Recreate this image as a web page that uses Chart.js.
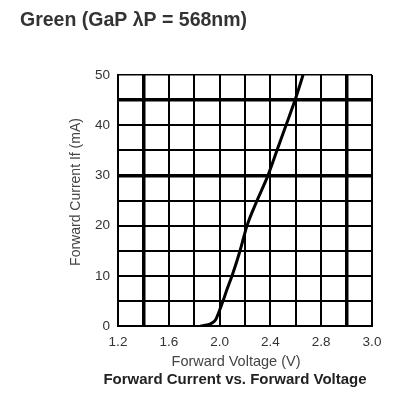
<!DOCTYPE html>
<html>
<head>
<meta charset="utf-8">
<script src="https://cdn.jsdelivr.net/npm/chart.js@4"></script>
<style>
  body { margin: 0; background: #fff; }
</style>
</head>
<body>
<canvas id="ivChart" width="405" height="396"></canvas>
<script>
// Forward voltage (V) and forward current (mA)
const voltage = [1.85, 1.90, 1.94, 1.97, 1.995, 2.027, 2.06, 2.098, 2.161, 2.216, 2.295, 2.381, 2.452, 2.523, 2.594, 2.657];
const current = [0, 0.2, 0.6, 1.3, 2.8, 5, 7.4, 10, 15, 20, 25, 30, 35, 40, 45, 50];

// tick labels as printed on the original (one per grid line)
const xTickLabels = ["1.2", "", "1.6", "", "2.0", "", "2.4", "", "2.8", "", "3.0"];
const yTickLabels = ["0", "", "10", "", "20", "", "30", "", "40", "", "50"];

const thickX = [1, 9];
const thickY = [6, 9];

const FONT = "'Liberation Sans', Arial, sans-serif";

// axis captions drawn around the plot box
const captions = {
    id: "captions",
    afterDraw(chart) {
        const c = chart.ctx;
        const a = chart.chartArea;
        c.save();
        c.textAlign = "center";
        c.textBaseline = "middle";
        c.fillStyle = "#444";
        c.font = "14.5px " + FONT;
        c.fillText("Forward Voltage (V)", a.left + 118, a.bottom + 36);
        c.fillStyle = "#222";
        c.font = "bold 15px " + FONT;
        c.fillText("Forward Current vs. Forward Voltage", a.left + 117, a.bottom + 54);
        c.translate(a.left - 42, a.top + 117);
        c.rotate(-Math.PI / 2);
        c.fillStyle = "#444";
        c.font = "14px " + FONT;
        c.fillText("Forward Current If (mA)", 0, 0);
        c.restore();
    }
};

const ctx = document.getElementById("ivChart").getContext("2d");

new Chart(ctx, {
    type: "line",
    data: {
        datasets: [{
            data: voltage.map((v, i) => ({x: v, y: current[i]})),
            borderColor: "#000",
            borderWidth: 3,
            pointRadius: 0,
            cubicInterpolationMode: "monotone",
            fill: false
        }]
    },
    options: {
        responsive: false,
        animation: false,
        layout: {padding: {left: 20, right: 33, top: 0, bottom: 0}},
        plugins: {
            legend: {display: false},
            tooltip: {enabled: false},
            title: {
                display: true,
                text: "Green (GaP λP = 568nm)",
                align: "start",
                color: "#333",
                font: {size: 19.5, weight: "bold", family: FONT},
                padding: {top: 9.3, bottom: 42.3}
            }
        },
        scales: {
            x: {
                type: "linear",
                min: 1.2,
                max: 3.2,
                afterFit: s => { s.height = 70; },
                afterBuildTicks: s => {
                    s.ticks = xTickLabels.map((t, i) => ({value: 1.2 + i * 0.2}));
                },
                ticks: {
                    autoSkip: false,
                    maxRotation: 0,
                    padding: 8,
                    color: "#333",
                    font: {size: 13.5, family: FONT},
                    callback: (v, i) => xTickLabels[i]
                },
                grid: {
                    color: "#000",
                    drawTicks: false,
                    lineWidth: c => thickX.includes(c.index) ? 3.5 : 2
                },
                border: {color: "#000", width: 2}
            },
            y: {
                min: 0,
                max: 50,
                afterFit: s => { s.width = 98; },
                afterBuildTicks: s => {
                    s.ticks = yTickLabels.map((t, i) => ({value: i * 5}));
                },
                ticks: {
                    autoSkip: false,
                    padding: 8,
                    color: "#333",
                    font: {size: 13.5, family: FONT},
                    callback: (v, i) => yTickLabels[i]
                },
                grid: {
                    color: "#000",
                    drawTicks: false,
                    lineWidth: c => thickY.includes(c.index) ? 3.5 : (c.index === 10 ? 1.5 : 2)
                },
                border: {color: "#000", width: 2}
            }
        }
    },
    plugins: [captions]
});
</script>
</body>
</html>
